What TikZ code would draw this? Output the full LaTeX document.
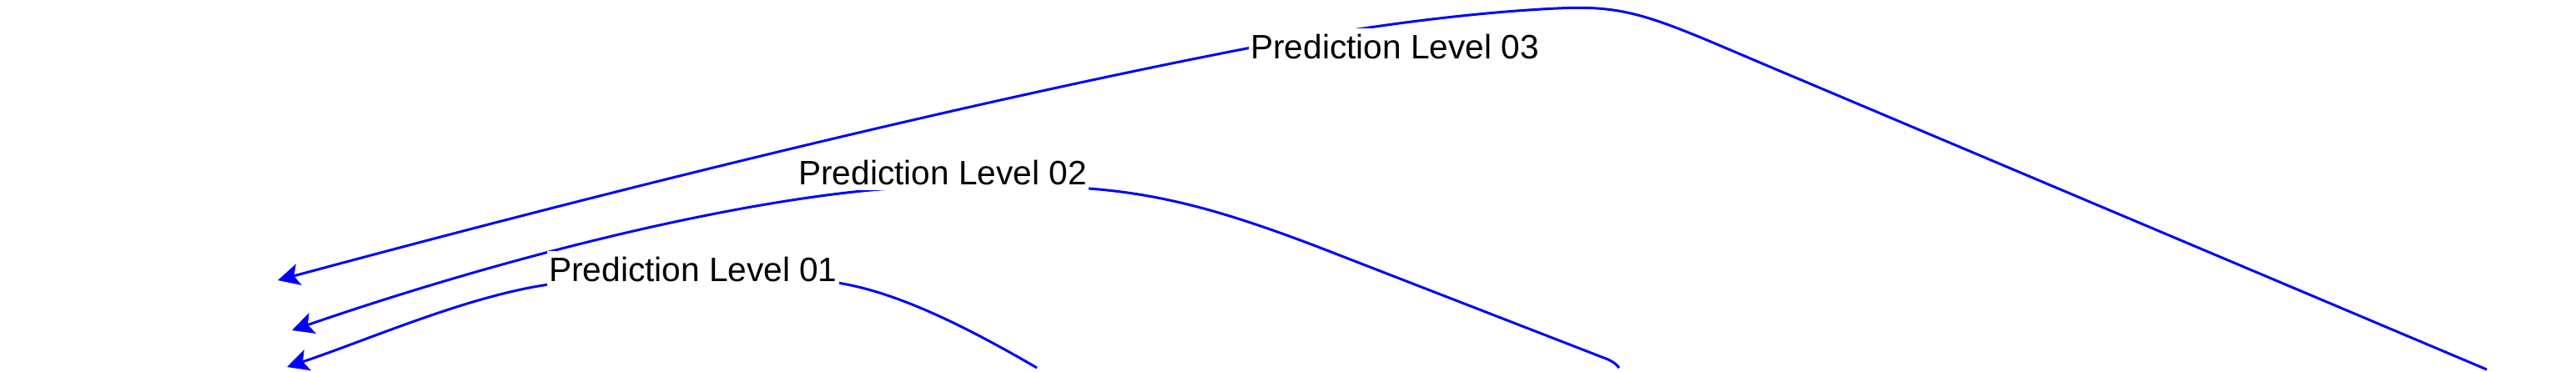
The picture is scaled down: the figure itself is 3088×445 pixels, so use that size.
\documentclass[tikz,border=0pt]{standalone}
\usepackage{fontspec}
\setmainfont{Liberation Sans}
\usetikzlibrary{arrows.meta}
\definecolor{linkblue}{RGB}{0,0,255}
\begin{document}
\begin{tikzpicture}[x=0.5pt,y=-0.5pt,
  conn/.style={draw=linkblue, line width=1.5pt,
    -{Stealth[length=13pt,width=13pt,inset=3pt]}},
  lbl/.style={fill=white, inner xsep=1pt, inner ysep=3.5pt, anchor=base,
    font=\fontsize{20.3pt}{24pt}\selectfont, text=black}]
\useasboundingbox (0,0) rectangle (3088,445);
% end points
\coordinate (s1) at (1243,441);
\coordinate (t1) at (344,440);
\coordinate (s2) at (1941,441);
\coordinate (t2) at (350,396);
\coordinate (s3) at (2981,443);
\coordinate (t3) at (333,336);
% connectors
\draw[conn] (s1) .. controls (1130,375) and (1060,348) .. (1004,339)
  .. controls (940,328) and (720,331) .. (658,341)
  .. controls (560,355) and (440,408) .. (t1);
\draw[conn] (s2) .. controls (1937,436) and (1932,432) .. (1920,428)
  -- (1580,296) .. controls (1480,258) and (1400,233) .. (1305,226)
  .. controls (1230,220) and (1100,222) .. (1033,229)
  .. controls (850,248) and (600,310) .. (t2);
\draw[conn] (s3) -- (2150,92) .. controls (1990,25) and (1960,5) .. (1867,10)
  .. controls (1780,14) and (1650,28) .. (1500,57)
  .. controls (1200,115) and (800,210) .. (t3);
% labels
\node[lbl] (l3) at (1672,70) {Prediction Level 03};
\node[lbl] (l2) at (1130,221) {Prediction Level 02};
\node[lbl] (l1) at (831,337) {Prediction Level 01};
\end{tikzpicture}
\end{document}
